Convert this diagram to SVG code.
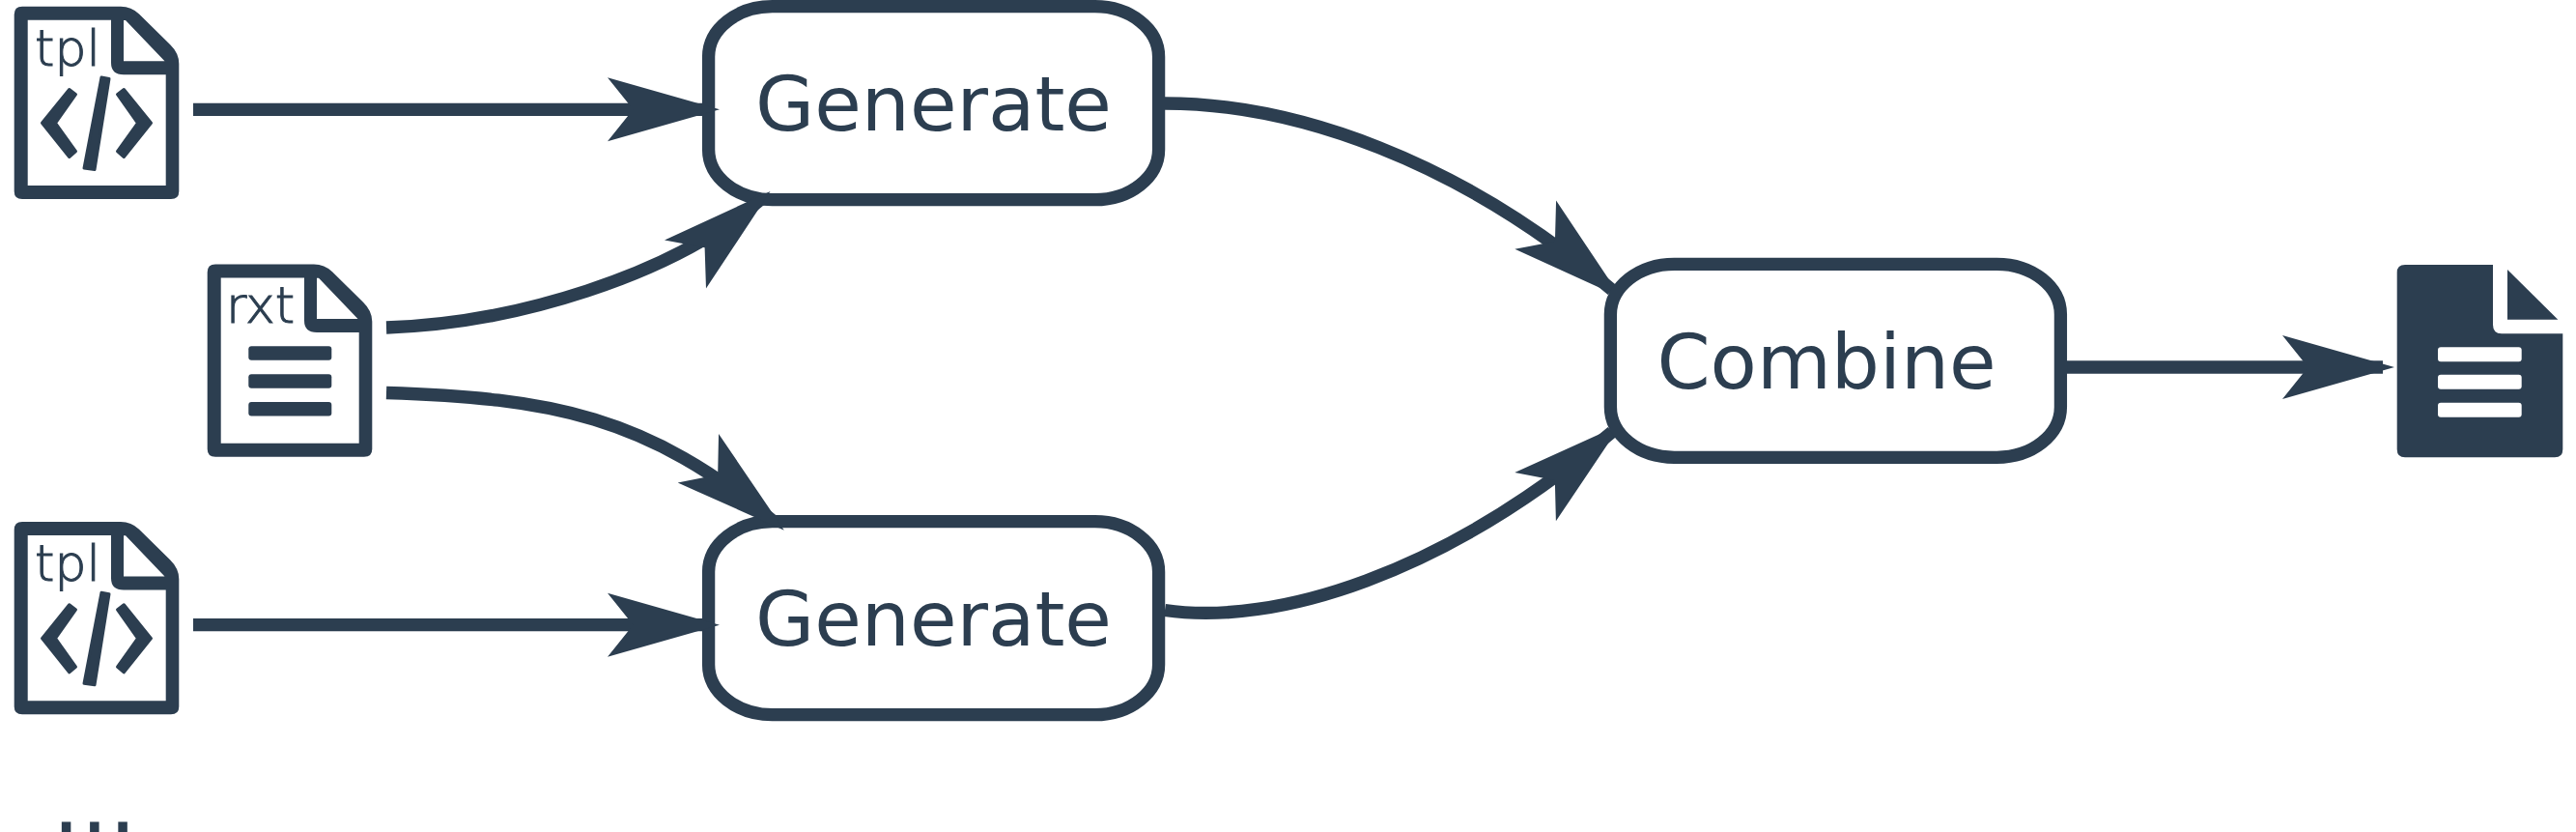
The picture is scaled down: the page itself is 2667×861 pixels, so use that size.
<svg xmlns="http://www.w3.org/2000/svg" width="2667" height="861" viewBox="0 0 2667 861">
<style>
.box{fill:#fff;stroke:#2c3e50;stroke-width:13.3}
.lbl{font-family:"DejaVu Sans",sans-serif;font-size:79px;fill:#2c3e50;text-anchor:middle}
.tag{font-family:"DejaVu Sans",sans-serif;font-weight:200;font-size:52px;fill:#2c3e50;stroke:#2c3e50;stroke-width:1.1}
.ink{fill:#2c3e50}
.edge{fill:none;stroke:#2c3e50;stroke-width:13.3;marker-end:url(#head)}
.dots{font-family:"DejaVu Sans",sans-serif;font-size:92px;fill:#2c3e50}
.gl{fill:#2c3e50;stroke:#2c3e50;stroke-width:3;stroke-linejoin:round}
</style>
<defs>
<marker id="head" markerUnits="userSpaceOnUse" markerWidth="120" markerHeight="70" refX="104" refY="35" orient="auto" overflow="visible"><path d="M0,2 L26.5,35 L0,68 L116,35Z" fill="#2c3e50"/></marker>
<path id="page" fill-rule="evenodd" d="M23,6.7H125Q136,6.7 144,14.5L176,46Q185.3,55 185.3,66V198Q185.3,206 177,206H23Q14.7,206 14.7,198V15Q14.7,6.7 23,6.7Z M28.7,20.7V192H171.7V77.3H128Q115,77.3 115,65V20.7Z M128,21V63.3H170.5L130,21Z"/>
<g id="code">
<path class="gl" d="M43.5,127.3L71.7,92.5L78.5,97.7L57.5,127.3L78.5,156.7L71.7,162.5Z"/>
<path class="gl" d="M156.5,127.3L128.3,92.5L121.5,97.7L142.5,127.3L121.5,156.7L128.3,162.5Z"/>
<path class="gl" d="M105,80L113,81.5L98,175.5L87,174Z"/>
</g>
</defs>
<rect width="2667" height="861" fill="#fff"/>
<g id="gen1"><rect class="box" x="733.6" y="6.7" width="466" height="200" rx="66" ry="52"/><text class="lbl" x="966.5" y="135">Generate</text></g>
<g id="gen2"><rect class="box" x="733.6" y="539.7" width="466" height="200" rx="66" ry="52"/><text class="lbl" x="966.5" y="668">Generate</text></g>
<g id="connectors">
<path class="edge" d="M200,113.3H733"/>
<path class="edge" d="M200,646.7H733"/>
<path class="edge" d="M400,339C530,335 695,286 788.4,205.8"/>
<path class="edge" d="M400,406.5C570,412 670,430 802.6,541"/>
<path class="edge" d="M1206,107C1340,107 1510,165 1669,300"/>
<path class="edge" d="M1206,631.5C1320,648 1494,595 1669,447"/>
<path class="edge" d="M2137,380H2467"/>
</g>
<g id="combine"><rect class="box" x="1667.4" y="273.3" width="466" height="200" rx="66" ry="52"/><text class="lbl" x="1891" y="401.7">Combine</text></g>
<g id="tpl1"><use href="#page" class="ink"/><text class="tag" x="36" y="67.7">tpl</text><use href="#code"/></g>
<g id="rxt"><use href="#page" class="ink" x="200" y="266.7"/><text class="tag" x="234" y="334.3">rxt</text>
<rect class="ink" x="257.3" y="358.3" width="86" height="14.4" rx="3"/><rect class="ink" x="257.3" y="387.3" width="86" height="14.4" rx="3"/><rect class="ink" x="257.3" y="416" width="86" height="14.4" rx="3"/></g>
<g id="tpl2"><use href="#page" class="ink" y="533.3"/><text class="tag" x="36" y="601">tpl</text><use href="#code" y="533.3"/></g>
<g id="output"><path class="ink" fill-rule="evenodd" d="M2490,274H2581V336Q2581,345.3 2590,345.3H2653.3V465Q2653.3,473.3 2645,473.3H2490Q2481.7,473.3 2481.7,465V282Q2481.7,274 2490,274Z M2527,359.3Q2524,359.3 2524,362.3V371.3Q2524,374.3 2527,374.3H2607.7Q2610.7,374.3 2610.7,371.3V362.3Q2610.7,359.3 2607.7,359.3Z M2527,387.7Q2524,387.7 2524,390.7V399.7Q2524,402.7 2527,402.7H2607.7Q2610.7,402.7 2610.7,399.7V390.7Q2610.7,387.7 2607.7,387.7Z M2527,416.7Q2524,416.7 2524,419.7V428.7Q2524,431.7 2527,431.7H2607.7Q2610.7,431.7 2610.7,428.7V419.7Q2610.7,416.7 2607.7,416.7Z"/><path class="ink" d="M2596,279L2648.3,330.7H2596Z"/></g>
<text class="dots" x="54" y="862">...</text>
</svg>
